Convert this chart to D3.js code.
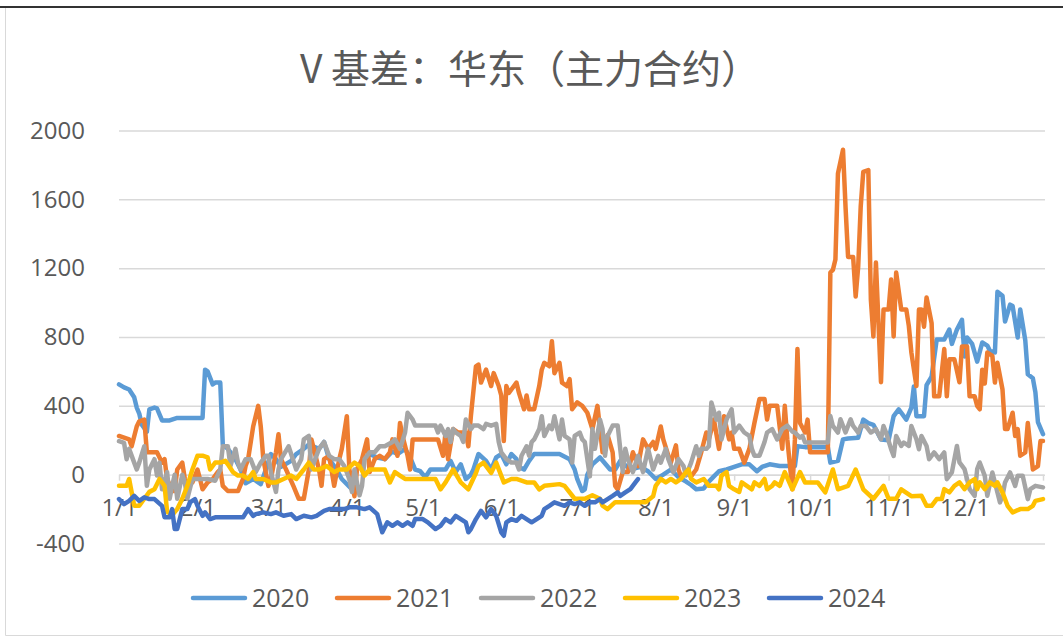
<!DOCTYPE html>
<meta charset="utf-8">
<style>
body { margin: 0; background: #fff; }
text { fill: #595959; }
.grid line { stroke: #d9d9d9; stroke-width: 1.5px; }
.grid .domain { display: none; }
.series { fill: none; stroke-width: 4.5px; stroke-linejoin: round; stroke-linecap: round; }
</style>
<svg width="1063" height="638"></svg>
<script src="https://d3js.org/d3.v7.min.js"></script>
<script>

// day-of-year, basis value
var s2020 = [[0,525],[2,507],[4,495],[6,450],[7,390],[8,355],[9,290],[11,250],[12,380],[14,390],[15,385],[17,315],[20,315],[23,330],[28,330],[33,330],[34,610],[35,600],[37,525],[38,535],[40,535],[41,175],[43,150],[46,90],[48,30],[50,-50],[53,-25],[56,-55],[58,30],[60,120],[62,90],[64,45],[68,80],[70,120],[73,150],[75,175],[79,150],[81,190],[83,90],[86,30],[88,-25],[91,-70],[92,-85],[94,30],[96,80],[99,120],[102,100],[105,90],[108,135],[110,120],[113,150],[115,100],[117,30],[119,20],[121,-15],[123,30],[126,30],[129,30],[131,80],[133,15],[135,60],[137,-25],[139,0],[140,30],[142,120],[145,80],[147,30],[149,100],[151,120],[153,60],[155,120],[157,90],[158,45],[160,30],[162,80],[164,120],[166,120],[170,120],[174,120],[178,90],[180,30],[181,-25],[183,-95],[184,-85],[185,0],[187,60],[190,100],[194,30],[196,30],[198,80],[202,30],[206,45],[209,20],[212,-25],[215,0],[218,30],[221,-15],[224,-40],[226,-60],[228,-85],[231,-80],[233,-40],[235,-10],[237,20],[240,30],[243,45],[246,60],[249,60],[252,20],[254,45],[257,60],[261,50],[267,50],[268,165],[271,160],[275,160],[280,160],[281,70],[284,80],[286,205],[288,210],[292,215],[294,320],[296,300],[298,290],[301,205],[304,200],[306,340],[308,380],[311,320],[313,390],[314,513],[315,340],[318,340],[319,520],[321,570],[323,785],[326,785],[328,843],[329,760],[331,843],[333,900],[334,687],[335,797],[337,760],[339,657],[341,768],[343,750],[344,720],[346,710],[347,1063],[349,1040],[350,890],[352,988],[353,980],[355,797],[356,960],[358,780],[359,583],[361,560],[362,478],[363,305],[365,235]];

var s2021 = [[0,225],[4,205],[5,165],[7,280],[8,310],[10,320],[11,130],[15,130],[17,70],[18,90],[19,-25],[21,-95],[22,-95],[23,30],[25,70],[26,-25],[27,-65],[29,-45],[31,30],[32,-25],[33,-85],[35,-45],[37,-25],[39,15],[40,30],[41,-65],[43,-95],[47,-95],[49,-25],[50,50],[51,90],[53,280],[55,400],[56,280],[57,90],[59,-65],[60,-25],[62,130],[63,235],[64,90],[66,30],[69,-70],[71,-140],[73,-140],[75,30],[76,205],[79,30],[80,-65],[81,90],[83,110],[85,-65],[87,90],[88,150],[90,340],[91,30],[93,-125],[94,30],[96,90],[98,205],[99,15],[101,90],[103,110],[105,90],[107,130],[108,205],[110,110],[111,300],[112,225],[114,110],[115,30],[116,205],[120,205],[126,205],[128,110],[129,245],[130,90],[132,265],[134,245],[137,245],[138,165],[139,340],[141,630],[142,640],[143,535],[145,610],[147,515],[148,590],[150,515],[151,460],[152,195],[153,515],[154,475],[155,495],[157,535],[158,475],[160,380],[161,460],[162,380],[164,380],[166,515],[167,610],[168,650],[170,630],[171,775],[172,590],[174,650],[175,535],[177,515],[178,555],[179,380],[181,420],[183,400],[185,360],[187,265],[189,400],[191,130],[193,230],[195,130],[196,-65],[197,-85],[199,15],[201,15],[203,130],[205,50],[207,205],[209,150],[211,190],[212,150],[214,280],[215,205],[217,110],[218,70],[220,170],[221,30],[222,-10],[224,10],[226,-10],[228,30],[230,130],[232,245],[233,205],[235,320],[237,150],[239,340],[241,205],[242,245],[243,150],[245,150],[247,70],[249,150],[251,300],[253,440],[255,440],[256,320],[257,400],[260,400],[262,150],[263,400],[264,205],[266,-85],[267,205],[268,730],[269,300],[271,245],[272,320],[273,130],[280,130],[281,1175],[282,1190],[283,1250],[284,1750],[286,1888],[287,1555],[288,1265],[290,1265],[291,1035],[292,1210],[293,1560],[294,1760],[296,1770],[297,1018],[298,803],[299,1233],[301,537],[302,960],[304,960],[305,1134],[306,803],[307,1175],[309,960],[311,960],[312,864],[313,710],[315,515],[316,960],[317,960],[318,860],[319,1030],[321,880],[322,455],[324,455],[326,730],[327,455],[328,670],[330,670],[332,537],[333,745],[335,745],[336,455],[338,455],[339,400],[340,380],[341,610],[342,530],[343,710],[345,690],[346,535],[347,650],[349,495],[350,265],[351,265],[353,360],[354,225],[355,265],[356,110],[358,130],[359,300],[361,30],[363,50],[364,195],[365,195]];

var s2022 = [[0,195],[2,185],[3,90],[4,150],[6,70],[7,30],[8,70],[10,165],[11,-65],[12,30],[14,90],[15,-5],[16,70],[17,-85],[19,15],[20,-140],[21,-65],[22,0],[23,-140],[25,0],[26,-45],[27,-140],[29,-25],[33,-25],[35,-25],[38,-35],[40,30],[41,165],[43,165],[44,50],[46,150],[47,70],[48,30],[50,90],[52,90],[54,15],[56,70],[58,110],[59,110],[60,15],[62,-100],[63,30],[64,90],[67,165],[70,30],[72,90],[73,205],[75,225],[76,30],[78,110],[79,150],[81,190],[83,110],[85,90],[87,90],[89,50],[91,-25],[92,-100],[93,30],[95,-120],[96,-65],[97,90],[99,130],[101,130],[103,165],[105,165],[108,190],[109,205],[111,150],[113,245],[114,360],[116,320],[117,285],[118,285],[125,285],[126,245],[127,285],[129,225],[130,265],[131,190],[132,265],[133,245],[135,225],[136,190],[137,320],[139,265],[140,285],[142,285],[144,265],[145,295],[147,285],[149,295],[150,190],[151,130],[153,90],[155,70],[157,70],[158,30],[159,110],[161,165],[162,110],[163,190],[164,205],[166,265],[167,340],[168,225],[170,285],[171,265],[172,340],[174,205],[175,320],[176,225],[178,205],[179,70],[180,225],[182,245],[183,205],[184,190],[186,-10],[187,265],[188,150],[190,320],[191,265],[192,110],[193,225],[195,285],[197,285],[199,15],[200,150],[201,90],[203,15],[205,110],[207,15],[209,150],[211,30],[213,110],[214,70],[216,150],[217,90],[219,15],[221,90],[223,50],[224,-5],[226,70],[228,165],[229,110],[230,150],[232,150],[233,165],[234,420],[236,320],[237,360],[238,205],[240,320],[242,380],[243,245],[245,285],[247,245],[249,225],[250,150],[251,110],[253,110],[255,190],[256,245],[258,265],[260,205],[262,265],[264,285],[266,250],[267,245],[269,215],[270,225],[271,187],[280,187],[281,341],[282,283],[284,245],[285,322],[287,245],[289,322],[290,283],[292,245],[293,283],[295,283],[297,245],[299,264],[301,206],[302,283],[303,245],[305,148],[306,109],[307,225],[309,167],[310,187],[312,167],[313,283],[315,206],[316,148],[317,225],[319,167],[320,90],[322,129],[324,90],[326,129],[327,-26],[329,13],[331,167],[332,71],[334,32],[336,-84],[338,-123],[339,32],[340,71],[342,-7],[343,-123],[345,13],[346,-45],[348,-161],[349,-123],[350,-45],[352,13],[354,-65],[355,-7],[357,-7],[359,-142],[360,-84],[362,-65],[365,-74]];

var s2023 = [[0,-65],[3,-65],[4,-25],[6,-180],[8,-180],[10,-140],[12,-100],[14,-85],[16,-25],[18,-65],[19,-215],[21,-235],[23,-200],[25,-140],[27,-65],[29,30],[31,110],[33,110],[35,100],[36,30],[38,70],[40,70],[42,80],[43,60],[45,15],[47,-5],[49,-5],[51,-25],[53,15],[54,-25],[57,-25],[60,-45],[62,-45],[65,-25],[68,-5],[70,-25],[73,30],[75,70],[77,30],[79,30],[82,50],[85,15],[87,30],[90,30],[93,70],[95,50],[97,-5],[99,30],[102,30],[105,30],[107,-45],[109,15],[111,-5],[113,-25],[120,-25],[125,-25],[127,-85],[129,-45],[132,30],[135,-45],[138,-85],[141,10],[142,50],[144,70],[147,10],[149,70],[152,-45],[155,-25],[157,-25],[161,-45],[164,-45],[166,-85],[168,-65],[174,-55],[176,-65],[180,-140],[184,-140],[187,-120],[190,-140],[191,-180],[193,-200],[196,-160],[200,-160],[208,-160],[211,-125],[212,-65],[214,-25],[216,-45],[218,-25],[220,-45],[222,-25],[224,15],[225,30],[226,-25],[228,-45],[231,-25],[233,-65],[236,-65],[237,-85],[238,-5],[240,15],[241,-65],[243,-85],[245,-100],[246,-45],[248,-65],[250,-85],[251,-45],[253,-65],[255,-25],[256,-85],[258,-65],[259,-45],[261,-65],[263,15],[266,-85],[269,15],[271,-45],[276,-45],[279,-103],[282,30],[284,-85],[288,-65],[291,30],[294,-85],[298,-140],[302,-65],[304,-140],[307,-140],[309,-85],[313,-125],[317,-123],[319,-181],[321,-181],[323,-142],[325,-142],[326,-84],[328,-103],[330,-65],[332,-45],[334,-84],[336,-45],[338,-26],[339,-84],[340,-45],[342,-84],[344,-45],[346,-65],[347,-45],[349,-103],[351,-181],[353,-219],[356,-200],[359,-200],[361,-181],[362,-152],[365,-142]];

var s2024 = [[0,-142],[2,-171],[4,-152],[6,-123],[8,-152],[10,-132],[12,-142],[14,-142],[17,-181],[18,-248],[20,-248],[21,-200],[22,-316],[23,-316],[25,-200],[27,-200],[28,-161],[30,-142],[31,-181],[33,-239],[34,-219],[36,-258],[38,-248],[40,-248],[45,-248],[49,-248],[51,-200],[53,-239],[54,-229],[57,-219],[60,-229],[62,-219],[65,-239],[68,-229],[70,-258],[73,-239],[76,-248],[78,-239],[81,-210],[83,-200],[86,-200],[89,-200],[91,-190],[94,-190],[97,-200],[99,-190],[102,-229],[104,-335],[106,-277],[108,-297],[110,-277],[112,-297],[114,-277],[116,-297],[117,-258],[120,-258],[122,-277],[125,-316],[127,-297],[129,-258],[131,-277],[133,-239],[135,-258],[137,-277],[138,-335],[139,-316],[141,-258],[143,-210],[145,-248],[147,-200],[149,-239],[151,-335],[152,-355],[153,-277],[155,-258],[157,-268],[159,-239],[161,-258],[163,-277],[165,-258],[167,-239],[168,-200],[170,-181],[172,-161],[174,-171],[176,-181],[178,-161],[180,-171],[182,-161],[184,-181],[186,-161],[188,-161],[190,-142],[191,-161],[193,-142],[195,-123],[197,-103],[198,-123],[200,-103],[202,-84],[204,-45],[205,-26]];

var years = ["2020", "2021", "2022", "2023", "2024"];
var colors = ["#5b9bd5", "#ed7d31", "#a5a5a5", "#ffc000", "#4472c4"];
var monthDays = [0, 31, 59, 90, 120, 151, 181, 212, 243, 273, 304, 334];
var monthLabels = ["1/1", "2/1", "3/1", "4/1", "5/1", "6/1", "7/1", "8/1", "9/1", "10/1", "11/1", "12/1"];
var yTicks = [-400, 0, 400, 800, 1200, 1600, 2000];
var series = [s2020, s2021, s2022, s2023, s2024];

var svg = d3.select("svg");
var plot = {left: 119, right: 1043, top: 130.5, bottom: 543.5};

var x = d3.scaleLinear().domain([0, 365]).range([plot.left, plot.right]),
    y = d3.scaleLinear().domain([-400, 2000]).range([plot.bottom, plot.top]);

// frame
svg.append("rect").attr("width", 1063).attr("height", 638).attr("fill", "#fff");
svg.append("path").attr("d", "M5.5,8V635.5H1063").attr("fill", "none").attr("stroke", "#d9d9d9");
svg.append("line").attr("x1", 0).attr("x2", 1063).attr("y1", 7).attr("y2", 7)
    .attr("stroke", "#333").attr("stroke-width", 2);

svg.append("text")
    .attr("x", 530).attr("y", 83)
    .attr("text-anchor", "middle")
    .style("font-family", "'Noto Sans CJK SC'")
    .style("font-size", "39px")
    .text("V 基差：华东（主力合约）");

// gridlines
svg.append("g")
    .attr("class", "grid")
    .attr("transform", "translate(" + plot.left + ",0)")
    .call(d3.axisLeft(y).tickValues(yTicks).tickSize(-(plot.right - plot.left + 2)).tickFormat(""));

svg.append("g")
    .attr("transform", "translate(" + plot.left + ",0)")
    .call(d3.axisLeft(y).tickValues(yTicks).tickSize(0).tickPadding(34)
        .tickFormat(function(d) { return String(d); }))
    .call(function(g) { g.select(".domain").remove(); })
    .selectAll("text")
    .style("font-family", "'Open Sans'")
    .style("font-size", "24px");

var xAxis = svg.append("g")
    .attr("transform", "translate(0," + y(0) + ")")
    .call(d3.axisBottom(x).tickValues(monthDays.concat([365]))
        .tickFormat(function(d, i) { return monthLabels[i] || ""; })
        .tickSize(6).tickSizeOuter(0).tickPadding(18));
xAxis.select(".domain").attr("stroke", "#d9d9d9").attr("stroke-width", 1.5);
xAxis.selectAll(".tick line").attr("stroke", "#d9d9d9").attr("stroke-width", 1.5);
xAxis.selectAll("text")
    .style("font-family", "'Open Sans'")
    .style("font-size", "24px");

var line = d3.line()
    .x(function(d) { return x(d[0]); })
    .y(function(d) { return y(d[1]); });

series.forEach(function(s, i) {
  svg.append("path")
      .datum(s)
      .attr("class", "series")
      .attr("stroke", colors[i])
      .attr("d", line);
});

// legend
var legend = svg.append("g").selectAll("g")
    .data(years)
  .enter().append("g")
    .attr("transform", function(d, i) { return "translate(" + (193 + i * 144) + ",598)"; });

legend.append("line")
    .attr("x1", 0).attr("x2", 52)
    .attr("stroke", function(d, i) { return colors[i]; })
    .attr("stroke-width", 4.5)
    .attr("stroke-linecap", "round");

legend.append("text")
    .attr("x", 59).attr("dy", "0.35em")
    .style("font-family", "'Open Sans'")
    .style("font-size", "25px")
    .text(function(d) { return d; });

</script>
